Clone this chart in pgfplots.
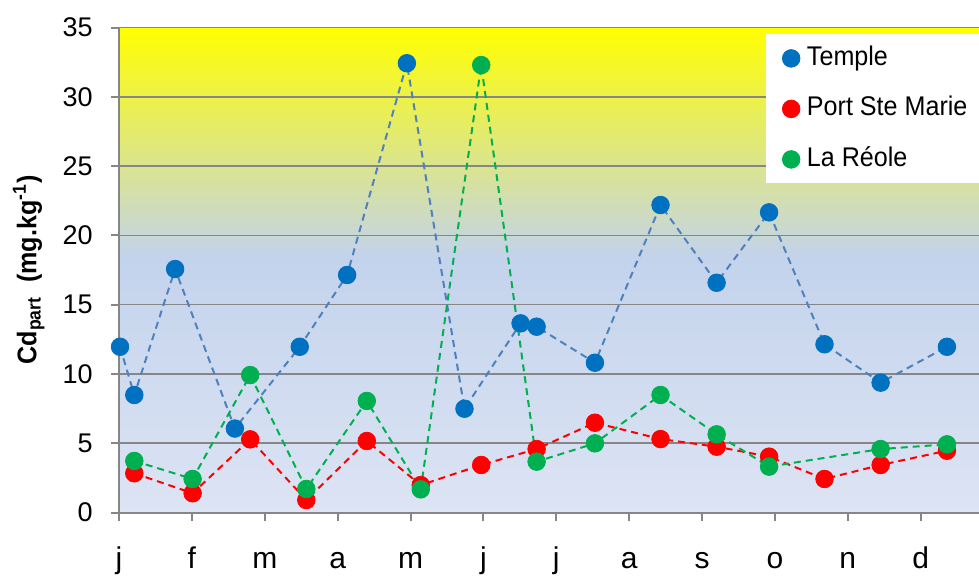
\documentclass[border=0pt]{standalone}
\usepackage{fontspec}
\setmainfont{Liberation Sans}
\newfontfamily\narrowfont[FakeStretch=0.93]{Liberation Sans}
\usepackage{pgfplots}
\pgfplotsset{compat=1.18}

\definecolor{tblue}{RGB}{0,112,192}
\definecolor{tblueline}{RGB}{79,129,189}
\definecolor{pred}{RGB}{255,0,0}
\definecolor{rgreen}{RGB}{0,176,80}
\definecolor{gridgray}{RGB}{134,134,134}
\definecolor{bgA}{RGB}{221,228,244}
\definecolor{bgB}{RGB}{195,211,236}
\definecolor{bgY}{RGB}{255,255,0}

% plot-area background: pale blue below ~18.5, fading to yellow at the top
\pgfdeclareverticalshading{cdbg}{100bp}{color(0bp)=(bgA); color(25bp)=(bgA); color(51.4bp)=(bgB); color(75bp)=(bgY); color(100bp)=(bgY)}

% sampling dates (month index, 0 = january) and particulate Cd
\pgfplotstableread{
x y
0.014 11.96
0.21 8.48
0.77 17.57
1.59 6.06
2.48 11.96
3.13 17.14
3.95 32.42
4.74 7.49
5.51 13.65
5.73 13.41
6.53 10.81
7.43 22.19
8.20 16.58
8.92 21.66
9.68 12.14
10.45 9.37
11.36 11.96
}\temple

\pgfplotstableread{
x y
0.21 2.83
1.01 1.39
1.80 5.28
2.57 0.90
3.40 5.16
4.14 1.98
4.97 3.43
5.73 4.58
6.53 6.48
7.43 5.30
8.20 4.75
8.92 4.03
9.68 2.42
10.45 3.43
11.36 4.46
}\portstemarie

\pgfplotstableread{
x y
0.21 3.72
1.01 2.42
1.80 9.92
2.57 1.70
3.40 8.05
4.14 1.67
4.97 32.29
5.73 3.67
6.53 4.99
7.43 8.48
8.20 5.64
8.92 3.31
10.45 4.58
11.36 4.92
}\lareole

\begin{document}
\begin{tikzpicture}
\useasboundingbox (-59.5pt,-31.25pt) rectangle (430pt,256.25pt);
\begin{axis}[
  at={(0pt,0pt)}, anchor=south west,
  scale only axis,
  width=430pt, height=242.5pt,
  xmin=0, xmax=11.8,
  ymin=0, ymax=35,
  clip=false,
  axis background/.style={shading=cdbg},
  axis x line*=bottom, axis y line*=left,
  axis line style={gridgray, line width=1pt},
  xtick={0,1,...,11},
  xticklabels={j,f,m,a,m,j,j,a,s,o,n,d},
  ytick={0,5,...,35},
  ymajorgrids,
  grid style={gridgray, line width=0.8pt},
  tick align=outside,
  major tick length=4pt,
  tick style={gridgray, line width=1pt},
  /pgf/number format/assume math mode=true,
  yticklabel style={font=\fontsize{13.5}{16}\selectfont, inner sep=0pt, xshift=-9pt},
  xticklabel style={font=\fontsize{15}{18}\selectfont, inner sep=0pt, text height=10.8pt, text depth=3pt, yshift=-13pt},
  ylabel={\textbf{Cd\textsubscript{part}\ \ (mg.kg\textsuperscript{-1})}},
  ylabel style={font=\narrowfont\fontsize{13.5}{16}\selectfont, at={(axis description cs:-0.105,0.5)}, anchor=center},
  legend image code/.code={\draw[#1, /tikz/only marks] plot coordinates {(0pt,0pt)};},
  legend style={
    at={(0.7523,1)}, anchor=north west, yshift=-3.25pt,
    draw=none, fill=white,
    font=\narrowfont\fontsize{13.5}{16}\selectfont,
    inner xsep=8pt, inner ysep=5.5pt,
    row sep=12.25pt, column sep=3.5pt,
    nodes={inner sep=0pt, text height=10pt, text depth=3pt, anchor=west},
  },
  legend cell align=left,
]
% markers first, series by series
\addplot[only marks, mark=*, mark size=4.4pt, color=tblue] table {\temple};
\addlegendentry{Temple}
\addplot[only marks, mark=*, mark size=4.4pt, color=pred] table {\portstemarie};
\addlegendentry{Port Ste Marie}
\addplot[only marks, mark=*, mark size=4.4pt, color=rgreen] table {\lareole};
\addlegendentry{La Réole}
% dashed connecting lines on top of the markers
\addplot[forget plot, no markers, tblueline, line width=1pt, dash pattern=on 3.5pt off 2.5pt] table {\temple};
\addplot[forget plot, no markers, pred, line width=1pt, dash pattern=on 3.5pt off 2.5pt] table {\portstemarie};
\addplot[forget plot, no markers, rgreen, line width=1pt, dash pattern=on 3.5pt off 2.5pt] table {\lareole};
\end{axis}
\end{tikzpicture}
\end{document}
